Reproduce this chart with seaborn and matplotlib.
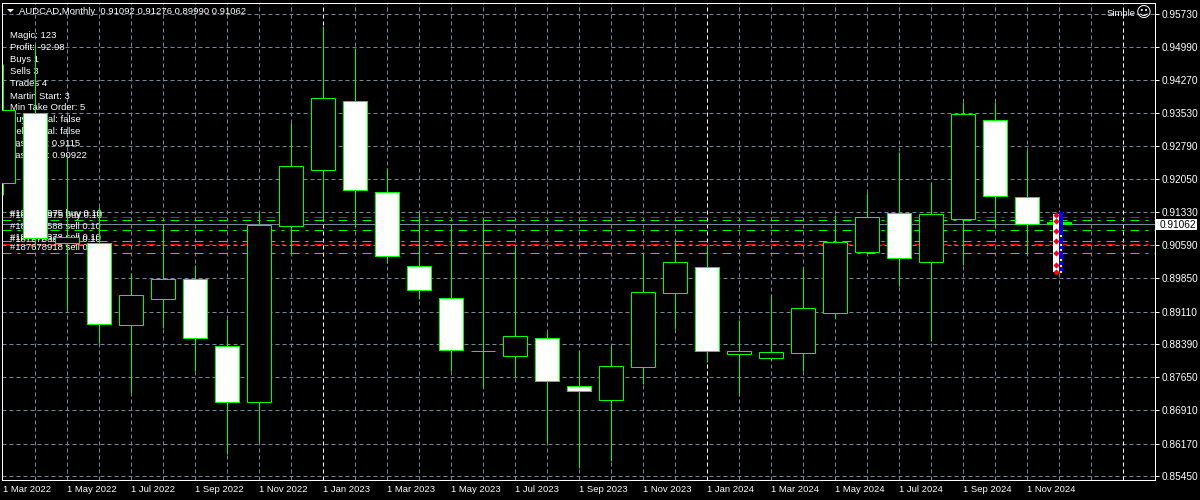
import matplotlib
matplotlib.use("Agg")
import matplotlib.pyplot as plt
from matplotlib.patches import Polygon, Rectangle
import seaborn as sns
import pandas as pd

# Candles, one per month from Mar 2022
aberturas = [0.91969, 0.93527, 0.90634, 0.90634, 0.88810, 0.89388, 0.89833, 0.88342, 0.87096, 0.91013, 0.92259, 0.93794,
             0.91769, 0.90122, 0.89410, 0.88242, 0.88120, 0.88520, 0.87452, 0.87141, 0.87875, 0.89522, 0.90100, 0.88164,
             0.88075, 0.88187, 0.89077, 0.90434, 0.91302, 0.90212, 0.91168, 0.93371, 0.91658, 0.91092]
maximos = [0.94617, 0.95040, 0.92548, 0.91442, 0.89973, 0.91057, 0.90145, 0.88943, 0.91324, 0.93305, 0.95463, 0.94973,
           0.92303, 0.91302, 0.91057, 0.91191, 0.90545, 0.88654, 0.88253, 0.88365, 0.90412, 0.90657, 0.90590, 0.88921,
           0.89499, 0.90100, 0.91257, 0.91747, 0.92659, 0.91992, 0.93772, 0.93772, 0.92704, 0.91276]
minimos = [0.91702, 0.90590, 0.89143, 0.88416, 0.87296, 0.88743, 0.87786, 0.85939, 0.86206, 0.90390, 0.91146, 0.90990,
           0.90189, 0.89388, 0.87786, 0.87408, 0.87653, 0.86206, 0.85628, 0.85783, 0.87497, 0.88721, 0.87986, 0.87252,
           0.88031, 0.87786, 0.88965, 0.90412, 0.89677, 0.88454, 0.90145, 0.90968, 0.90367, 0.89990]
fechamentos = [0.93594, 0.90746, 0.90768, 0.88832, 0.89477, 0.89833, 0.88520, 0.87096, 0.91035, 0.92348, 0.93861, 0.91814,
               0.90345, 0.89588, 0.88253, 0.88220, 0.88565, 0.87564, 0.87341, 0.87897, 0.89544, 0.90212, 0.88231, 0.88231,
               0.88209, 0.89188, 0.90657, 0.91213, 0.90301, 0.91280, 0.93505, 0.91680, 0.91057, 0.91062]

precos_eixo = [0.95730, 0.94990, 0.94270, 0.93530, 0.92790, 0.92050, 0.91330, 0.90590,
               0.89850, 0.89110, 0.88390, 0.87650, 0.86910, 0.86170, 0.85450]
rotulos_mes = ["1 Mar 2022", "1 May 2022", "1 Jul 2022", "1 Sep 2022", "1 Nov 2022", "1 Jan 2023", "1 Mar 2023",
               "1 May 2023", "1 Jul 2023", "1 Sep 2023", "1 Nov 2023", "1 Jan 2024", "1 Mar 2024", "1 May 2024",
               "1 Jul 2024", "1 Sep 2024", "1 Nov 2024"]

# Ordens abertas e preco atual
linhas_vermelhas = [0.91206, 0.90605]
linhas_verdes = [0.91139, 0.90917, 0.90672, 0.90405]
preco_atual = 0.91062

# Setas de trade empilhadas no ultimo candle
setas_vermelhas = [0.91257, 0.91130, 0.90910, 0.90680, 0.90420, 0.90145, 0.89996]
setas_azuis = [0.91280, 0.91191, 0.91124, 0.91057, 0.90990, 0.90923, 0.90835, 0.90768, 0.90679,
               0.90590, 0.90523, 0.90434, 0.90367, 0.90278, 0.90189, 0.90100, 0.90033]
setas_amarelas = [0.90790, 0.90590, 0.90480, 0.90256, 0.90120, 0.89996]

info = ["Magic: 123", "Profit: -92.98", "Buys 1", "Sells 3", "Trades 4", "Martin Start: 3", "Min Take Order: 5",
        "Buy Signal: false", "Sell Signal: false", "Last Sell: 0.9115", "Last Buy: 0.90922"]
ordens = ["#187678975 buy 0.10", "#187677975 buy 0.10", "#187678588 sell 0.10",
          "#187678378 sell 0.10", "#187678364 sell 0.10", "#187678918 sell 0.10"]
ordens_y = [213, 215, 225, 236, 238, 247]

W, H = 1200, 500
FONTE = 6.8
CINZA = "#778899"
VERDE = "#00ff00"
PX = 0.72  # 1 pixel em pontos com dpi=100
X_MIN = -1 / 32
X_MAX = (1154.5 - 3) / 32

sns.set_theme(style="dark", rc={"figure.facecolor": "black", "axes.facecolor": "black",
                                "axes.edgecolor": "white", "axes.linewidth": PX,
                                "xtick.color": "white", "ytick.color": "white", "text.color": "white"})
plt.rcParams["font.family"] = ["Liberation Sans", "DejaVu Sans"]

def fx(px):
    return px / W

def fy(py):
    return 1 - py / H

def preco(py):
    return 0.95730 - (py - 14) / 4494

fig = plt.figure(figsize=(12, 5), dpi=100)
ax = fig.add_axes([fx(2), fy(479.5), fx(1154.5 - 2), (479.5 - 2.5) / H])

df = pd.DataFrame({"mes": range(len(aberturas)), "abertura": aberturas, "fechamento": fechamentos})
df["corpo"] = (df["fechamento"] - df["abertura"]).abs()
df["base"] = df[["abertura", "fechamento"]].min(axis=1)
df["tipo"] = ["alta" if f >= a else "baixa" for a, f in zip(aberturas, fechamentos)]
df.loc[df["corpo"] < 0.0004, "tipo"] = "doji"

# Corpos dos candles: preto quando sobe, branco quando desce, doji vira um traco verde
for tipo, cor in [("alta", "black"), ("baixa", "white"), ("doji", VERDE)]:
    parte = df[df["tipo"] == tipo]
    # native_scale multiplica a largura pelo menor passo entre as barras do grupo
    passo = parte["mes"].diff().min()
    sns.barplot(data=parte, x="mes", y="corpo", color=cor, native_scale=True, width=0.75 / passo, saturation=1,
                errorbar=None, bottom=parte["base"].values, edgecolor=VERDE, linewidth=PX, zorder=3, ax=ax)

# Pavios
ax.vlines(df["mes"], minimos, maximos, colors=VERDE, linewidth=PX, zorder=2.5)

# Grade
ax.set_yticks(precos_eixo, [f"{p:.5f}" for p in precos_eixo], fontsize=FONTE + 0.5)
ax.yaxis.tick_right()
ax.yaxis.grid(True, color=CINZA, linestyle=(0, (4, 3)), linewidth=PX, zorder=1)
ax.set_axisbelow(True)
meses_grade = [m for m in range(1, 37) if m not in (10, 22, 35)]
ax.vlines(meses_grade, preco(479.5), preco(2.5), colors=CINZA, linewidth=PX, linestyles=[(0, (4, 3))], zorder=1)
ax.vlines([10, 22, 35], preco(479.5), preco(2.5), colors="white", linewidth=PX, linestyles=[(0, (4, 3))], zorder=1)

ax.set_xticks(range(0, 34, 2), rotulos_mes, fontsize=FONTE, ha="left")
ax.tick_params(axis="both", length=4 * PX, width=PX, pad=2)
ax.tick_params(axis="x", pad=1)
ax.set_xlabel("")
ax.set_ylabel("")

# Linhas das ordens
traco = (0, (9, 6, 3, 6))
for p in linhas_vermelhas:
    ax.axhline(p, color="red", linewidth=PX, linestyle=traco, zorder=1.5)
for p in linhas_verdes:
    ax.axhline(p, color=VERDE, linewidth=PX, linestyle=traco, zorder=1.5)
ax.axhline(preco_atual, color=CINZA, linewidth=PX, zorder=1.6)

# Setas do ultimo candle
ultimo = len(aberturas) - 1
ax.vlines(ultimo - 0.1, minimos[-1], maximos[-1], colors="white", linewidth=6 * PX, zorder=4)
sns.scatterplot(x=[ultimo + 0.05] * len(setas_azuis), y=setas_azuis, marker="s", s=6, color="#0000ff",
                linewidth=0, zorder=4.1, ax=ax)
sns.scatterplot(x=[ultimo + 0.07] * len(setas_amarelas), y=setas_amarelas, marker="s", s=3, color="#ffff00",
                linewidth=0, zorder=4.2, ax=ax)
sns.scatterplot(x=[ultimo - 0.10] * len(setas_vermelhas), y=setas_vermelhas, marker="D", s=10, color="#ff0000",
                linewidth=0, zorder=4.3, ax=ax)

ax.set_xlim(X_MIN, X_MAX)
ax.set_ylim(preco(479.5), preco(2.5))

# Textos por cima da grade e por baixo dos candles (y na linha de base)
for i, t in enumerate(info):
    ax.text(fx(10), fy(38.5 + 12 * i), t, transform=fig.transFigure, fontsize=FONTE, va="baseline", color="white", zorder=2)
for t, y in zip(ordens, ordens_y):
    ax.text(fx(10), fy(y + 3.5), t, transform=fig.transFigure, fontsize=FONTE, va="baseline", color="white", zorder=2)

# Cabecalho
fig.add_artist(Polygon([[fx(7), fy(9)], [fx(14), fy(9)], [fx(10.5), fy(12.5)]], transform=fig.transFigure,
                       color="white", lw=0))
fig.text(fx(19), fy(14), "AUDCAD,Monthly  0.91092 0.91276 0.89990 0.91062", fontsize=FONTE, va="baseline", color="white")
fig.text(fx(1136), fy(15.5), "Simple", fontsize=FONTE, va="baseline", ha="right", color="white")
fig.text(fx(1144), fy(12), "\u263a", fontsize=11, va="center", ha="center", color="white", family="DejaVu Sans")

# Etiqueta do preco atual
fig.add_artist(Rectangle((fx(1156), fy(230)), 41 / W, 11 / H, transform=fig.transFigure, color="white", lw=0))
fig.text(fx(1160), fy(228), "0.91062", fontsize=FONTE + 0.5, va="baseline", color="black")

fig.savefig("out.png", dpi=100, facecolor="black")
